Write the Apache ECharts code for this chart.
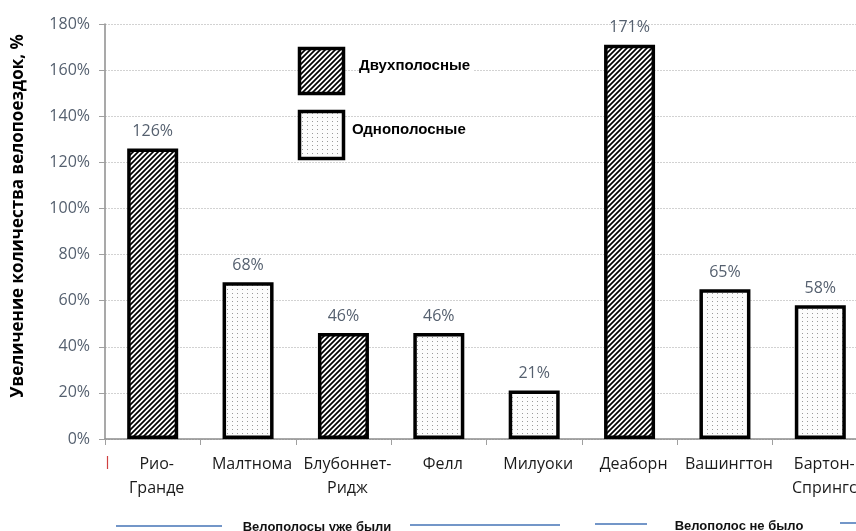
<!DOCTYPE html>
<html><head><meta charset="utf-8">
<script src="https://cdn.jsdelivr.net/npm/echarts@6/dist/echarts.min.js"></script>
<style>html,body{margin:0;padding:0;background:#fff}#c{width:856px;height:531px}</style>
</head><body><div id="c"></div>
<script>
const categories = ['Рио-\nГранде','Малтнома','Блубоннет-\nРидж','Фелл','Милуоки','Деаборн','Вашингтон','Бартон-\nСпрингс'];
const twoLane = [126, '-', 46, '-', '-', 171, '-', '-'];
const oneLane = ['-', 68, '-', 46, 21, '-', 65, 58];
const seriesNames = ['Двухполосные', 'Однополосные'];
const yTicks = {min: 0, max: 180, interval: 20};
const groupLabels = ['Велополосы уже были', 'Велополос не было'];
const yTitle = 'Увеличение количества велопоездок, %';

function hatch() {
  const n = 5, c = document.createElement('canvas');
  c.width = n; c.height = n;
  const g = c.getContext('2d');
  g.fillStyle = '#fff'; g.fillRect(0,0,n,n);
  g.strokeStyle = '#000'; g.lineWidth = 1.7;
  g.beginPath();
  g.moveTo(-1, n+1); g.lineTo(n+1, -1);
  g.moveTo(-2, 2); g.lineTo(2, -2);
  g.moveTo(n-2, n+2); g.lineTo(n+2, n-2);
  g.stroke();
  return c;
}
function dots() {
  const c = document.createElement('canvas');
  c.width = 5; c.height = 4;
  const g = c.getContext('2d');
  g.fillStyle = '#fcfcfc'; g.fillRect(0,0,5,4);
  g.fillStyle = '#9a9a9a'; g.fillRect(2,1,1,1);
  return c;
}
const hatchPat = {image: hatch(), repeat: 'repeat'};
const dotPat = {image: dots(), repeat: 'repeat'};

const chart = echarts.init(document.getElementById('c'), null, {renderer: 'canvas'});
const valueLabel = {
  show: true, position: 'top', distance: 9,
  formatter: p => p.value + '%',
  fontFamily: 'Open Sans', fontSize: 16, color: '#55606f'
};
chart.setOption({
  animation: false,
  grid: {left: 105, right: -12, top: 24, bottom: 92, outerBoundsMode: 'none'},
  xAxis: {
    type: 'category', data: categories,
    axisLine: {show: true, lineStyle: {color: '#8c8c8c', width: 1.5}},
    axisTick: {show: true, length: 6, lineStyle: {color: '#a0a0a0'}},
    axisLabel: {interval: 0, margin: 13, fontFamily: 'Open Sans', fontSize: 16, color: '#1a1a1a', lineHeight: 24, padding: [0,0,0,8]}
  },
  yAxis: {
    type: 'value', min: yTicks.min, max: yTicks.max, interval: yTicks.interval,
    axisLine: {show: true, lineStyle: {color: '#8c8c8c', width: 1.5}},
    axisTick: {show: true, length: 6, lineStyle: {color: '#a0a0a0'}},
    axisLabel: {formatter: '{value}%', margin: 15, fontFamily: 'Open Sans', fontSize: 16, color: '#55606f'},
    splitLine: {show: true, lineStyle: {color: '#d2d2d2', type: [2, 1], width: 1.2}}
  },
  series: [
    {name: seriesNames[0], type: 'bar', data: twoLane, barWidth: 51, barGap: '-100%',
     itemStyle: {color: hatchPat, borderColor: '#000', borderWidth: 3.5}, label: valueLabel},
    {name: seriesNames[1], type: 'bar', data: oneLane, barWidth: 51, barGap: '-100%',
     itemStyle: {color: dotPat, borderColor: '#000', borderWidth: 3.5}, label: valueLabel}
  ],
  graphic: [
    {type: 'text', x: 18, y: 216, rotation: Math.PI/2,
     style: {text: yTitle, fontFamily: 'Open Sans', fontWeight: 'bold', fontSize: 17, fill: '#000', align: 'center', verticalAlign: 'middle'}},
    {type: 'rect', shape: {x: 299.5, y: 48.5, width: 44, height: 45}, style: {fill: hatchPat, stroke: '#000', lineWidth: 3.5}, z: 10},
    {type: 'rect', shape: {x: 299.5, y: 111.5, width: 44, height: 47}, style: {fill: dotPat, stroke: '#000', lineWidth: 3.5}, z: 10},
    {type: 'text', x: 359, y: 66, z: 10,
     style: {text: seriesNames[0], fontFamily: 'Liberation Sans', fontWeight: 'bold', fontSize: 15, fill: '#000', verticalAlign: 'middle', backgroundColor: '#fff', padding: [2, 3, 2, 0]}},
    {type: 'text', x: 352, y: 130, z: 10,
     style: {text: seriesNames[1], fontFamily: 'Liberation Sans', fontWeight: 'bold', fontSize: 15, fill: '#000', verticalAlign: 'middle'}},
    {type: 'line', shape: {x1: 107.5, y1: 456, x2: 107.5, y2: 469}, style: {stroke: '#d04040', lineWidth: 1.2}},
    {type: 'line', shape: {x1: 116, y1: 526, x2: 222, y2: 526}, style: {stroke: '#7396c8', lineWidth: 2}},
    {type: 'line', shape: {x1: 410, y1: 525, x2: 560, y2: 525}, style: {stroke: '#7396c8', lineWidth: 2}},
    {type: 'line', shape: {x1: 595, y1: 524, x2: 647, y2: 524}, style: {stroke: '#7396c8', lineWidth: 2}},
    {type: 'line', shape: {x1: 840, y1: 523, x2: 856, y2: 523}, style: {stroke: '#7396c8', lineWidth: 2}},
    {type: 'text', x: 317, y: 527,
     style: {text: groupLabels[0], fontFamily: 'Liberation Sans', fontWeight: 'bold', fontSize: 13, fill: '#111', align: 'center', verticalAlign: 'middle'}},
    {type: 'text', x: 739, y: 526,
     style: {text: groupLabels[1], fontFamily: 'Liberation Sans', fontWeight: 'bold', fontSize: 13, fill: '#111', align: 'center', verticalAlign: 'middle'}}
  ]
});
</script></body></html>
